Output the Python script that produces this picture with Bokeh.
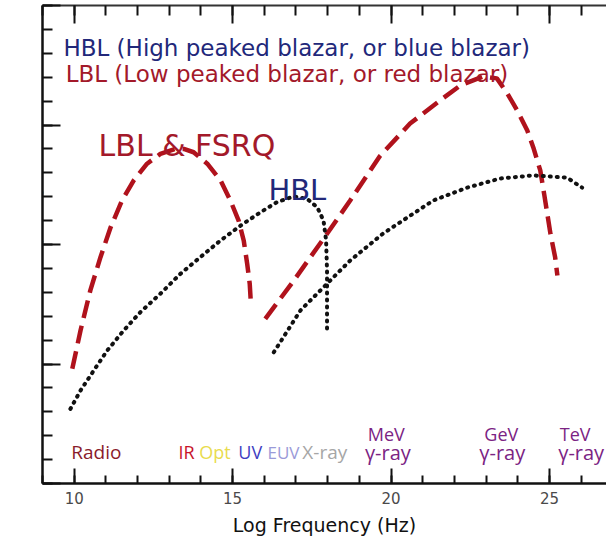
from bokeh.plotting import figure
from bokeh.models import LinearAxis, SingleIntervalTicker, Label, Range1d, CustomLabelingPolicy
from bokeh.embed import file_html
from bokeh.resources import INLINE
import math

# LBL synchrotron hump (log frequency, flux x frequency)
lbl_sync_x = [9.94, 10.20, 10.51, 10.83, 11.15, 11.51, 11.88, 12.30, 12.72, 13.20, 13.46, 13.77, 14.20, 14.62, 14.93, 15.19, 15.35, 15.46, 15.54, 15.58]
lbl_sync_y = [4.80, 6.40, 8.08, 9.47, 10.72, 11.84, 12.68, 13.38, 13.79, 14.00, 14.00, 13.86, 13.38, 12.68, 11.84, 11.00, 10.17, 9.19, 8.36, 7.45]

# LBL inverse-Compton hump
lbl_ic_x = [16.03, 16.93, 17.98, 18.71, 19.65, 20.60, 21.55, 22.18, 22.90, 23.34, 23.67, 23.98, 24.30, 24.49, 24.71, 24.84, 25.03, 25.18, 25.25]
lbl_ic_y = [6.89, 8.49, 10.45, 11.84, 13.70, 15.06, 16.03, 16.65, 17.03, 16.95, 16.32, 15.61, 14.77, 14.06, 13.10, 12.05, 10.46, 9.46, 8.70]

# HBL synchrotron hump
hbl_sync_x = [9.88, 10.20, 10.62, 11.04, 11.56, 12.09, 12.72, 13.35, 13.98, 14.62, 15.25, 15.88, 16.40, 16.93, 17.35, 17.67, 17.87, 17.95, 17.98, 17.98, 17.98]
hbl_sync_y = [3.12, 3.89, 4.73, 5.56, 6.40, 7.17, 7.94, 8.77, 9.47, 10.17, 10.79, 11.35, 11.77, 12.01, 11.91, 11.56, 11.00, 10.17, 8.91, 7.52, 6.40]

# HBL inverse-Compton hump
hbl_ic_x = [16.30, 17.14, 17.98, 18.71, 19.75, 21.33, 22.40, 23.44, 24.48, 25.55, 26.03]
hbl_ic_y = [5.49, 7.24, 8.36, 9.33, 10.46, 11.84, 12.38, 12.76, 12.89, 12.80, 12.38]

TITLE_FONT = "DejaVu Sans"
BAND_FONT = "Open Sans"
RED = "#b0121c"
NAVY = "#22287a"
DARKRED = "#a3192a"
PURPLE = "#7b2383"

p = figure(width=606, height=541, output_backend="svg", toolbar_location=None,
           x_range=Range1d(9.0, 26.8), y_range=Range1d(0, 20),
           x_axis_location=None, y_axis_location=None)
p.min_border_left = 42
p.min_border_right = 0
p.min_border_top = 5
p.min_border_bottom = 58
p.outline_line_color = None
p.grid.visible = False
p.background_fill_color = "white"
p.border_fill_color = "white"

# tick labels are suppressed on the top and left axes
no_labels = CustomLabelingPolicy(code="for (let i = 0; i < indices.size; i++) { indices.unset(i) } return indices")


def style_axis(ax, major_in, minor_in, width):
    ax.ticker = SingleIntervalTicker(interval=5, num_minor_ticks=5)
    ax.major_tick_in = major_in
    ax.major_tick_out = 0
    ax.minor_tick_in = minor_in
    ax.minor_tick_out = 0
    ax.axis_line_width = width
    ax.major_tick_line_width = 2
    ax.minor_tick_line_width = 2
    ax.axis_line_color = "#111111"
    ax.major_tick_line_color = "#111111"
    ax.minor_tick_line_color = "#111111"


def hide_labels(ax):
    ax.major_label_policy = no_labels
    ax.major_label_standoff = 0
    ax.major_label_text_font_size = "1px"


xb = LinearAxis()
style_axis(xb, 15, 8, 2.5)
xb.major_label_text_font = TITLE_FONT
xb.major_label_text_font_size = "15px"
xb.major_label_text_color = "#4a4a4a"
xb.major_label_standoff = 8
xb.axis_label = "Log Frequency (Hz)"
xb.axis_label_text_font = TITLE_FONT
xb.axis_label_text_font_size = "19px"
xb.axis_label_text_font_style = "normal"
xb.axis_label_text_color = "#111111"
xb.axis_label_standoff = 7
p.add_layout(xb, "below")

xt = LinearAxis()
style_axis(xt, 18, 10, 2)
hide_labels(xt)
xt.axis_line_color = "#333333"
p.add_layout(xt, "above")

yl = LinearAxis()
style_axis(yl, 18, 10, 2.5)
hide_labels(yl)
p.add_layout(yl, "left")

# spectral energy distribution humps
p.line(lbl_sync_x, lbl_sync_y, line_color=RED, line_width=4.5, line_dash="18 8")
p.line(lbl_ic_x, lbl_ic_y, line_color=RED, line_width=4.5, line_dash="18 8")
p.line(hbl_sync_x, hbl_sync_y, line_color="#111111", line_width=4, line_dash="1 6", line_cap="round")
p.line(hbl_ic_x, hbl_ic_y, line_color="#111111", line_width=4, line_dash="1 6", line_cap="round")


def label(x, y, text, color, size, font, align="left", angle=0.0, style="normal"):
    p.add_layout(Label(x=x, y=y, text=text, text_color=color, text_font=font,
                       text_font_size=size, text_align=align, text_baseline="alphabetic",
                       angle=angle, text_font_style=style))


label(9.66, 18.24, "HBL (High peaked blazar, or blue blazar)", NAVY, "23px", TITLE_FONT)
label(9.73, 17.15, "LBL (Low peaked blazar, or red blazar)", DARKRED, "23px", TITLE_FONT)
label(10.77, 14.14, "LBL & FSRQ", DARKRED, "30px", TITLE_FONT)
label(16.13, 12.30, "HBL", NAVY, "29px", TITLE_FONT)

label(9.91, 1.30, "Radio", "#8a1b2b", "19px", BAND_FONT)
label(13.29, 1.30, "IR", "#c8142a", "18px", BAND_FONT)
label(13.95, 1.30, "Opt", "#e9dc4e", "18px", BAND_FONT)
label(15.18, 1.30, "UV", "#3f3fc2", "18px", BAND_FONT)
label(16.10, 1.30, "EUV", "#9a9ad8", "17px", BAND_FONT)
label(17.20, 1.30, "X-ray", "#a6a6a6", "19px", BAND_FONT)

label(19.85, 2.09, "MeV", PURPLE, "18px", BAND_FONT, "center")
label(19.90, 1.30, "γ-ray", PURPLE, "20px", BAND_FONT, "center")
label(23.48, 2.09, "GeV", PURPLE, "18px", BAND_FONT, "center")
label(23.51, 1.30, "γ-ray", PURPLE, "20px", BAND_FONT, "center")
label(25.81, 2.09, "TeV", PURPLE, "18px", BAND_FONT, "center")
label(26.00, 1.30, "γ-ray", PURPLE, "20px", BAND_FONT, "center")

label(8.68, 9.37, "Flux x frequency", "#111111", "18px", TITLE_FONT, "center", math.pi / 2)

open("out.html", "w").write(file_html(p, INLINE))
